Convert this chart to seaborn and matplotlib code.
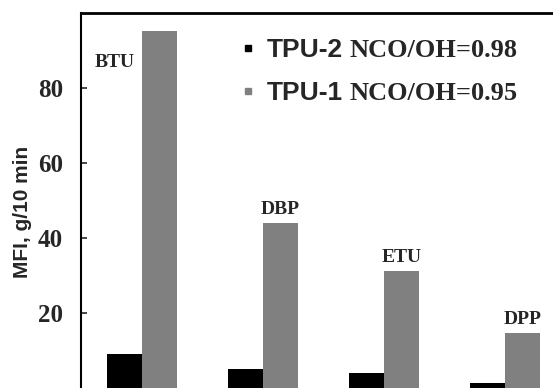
import matplotlib
matplotlib.use("Agg")
import matplotlib.pyplot as plt
from matplotlib.lines import Line2D
from matplotlib.transforms import IdentityTransform
import seaborn as sns
import pandas as pd

# ---- data ----
additives = ["BTU", "DBP", "ETU", "DPP"]
tpu2_mfi = [9.3, 5.2, 4.2, 1.4]      # TPU-2 NCO/OH=0.98 (black)
tpu1_mfi = [95.2, 44.2, 31.4, 14.8]  # TPU-1 NCO/OH=0.95 (gray)
series_names = ["TPU-2", "TPU-1"]
series_ratios = ["NCO/OH=0.98", "NCO/OH=0.95"]
y_ticks = [20, 40, 60, 80]

df = pd.DataFrame({
    "additive": additives * 2,
    "mfi": tpu2_mfi + tpu1_mfi,
    "series": [series_names[0]] * len(additives) + [series_names[1]] * len(additives),
})

sns.set_style("white")

colors = {"TPU-2": "#000000", "TPU-1": "#808080"}

fig = plt.figure(figsize=(5.53, 3.88), dpi=100)
ax = fig.add_axes([81 / 553, -0.5 / 388, 485 / 553, 375.5 / 388])

sns.barplot(data=df, x="additive", y="mfi", hue="series", hue_order=series_names,
            palette=colors, width=0.578, gap=0, saturation=1, linewidth=0,
            legend=False, ax=ax, errorbar=None)

ax.set_xlim(-0.5, 3.5)
ax.set_ylim(0, 100)
ax.set_yticks(y_ticks)
ax.set_yticklabels([str(t) for t in y_ticks], family="Liberation Serif",
                   weight="bold", size=18)
ax.tick_params(axis="y", direction="in", length=4, width=1.2, pad=13, left=True)
ax.tick_params(axis="x", bottom=False, labelbottom=False)
ax.set_xlabel("")
ax.set_ylabel("MFI, g/10 min", family="Liberation Sans", weight="bold", size=15)
ax.yaxis.set_label_coords(-0.101, 0.469)

for s in ["right", "bottom"]:
    ax.spines[s].set_visible(False)
ax.spines["left"].set_linewidth(1.5)
ax.spines["top"].set_linewidth(2.0)
ax.spines["left"].set_color("black")
ax.spines["top"].set_color("black")

# additive labels
half = 0.578 / 4
for i, (name, v) in enumerate(zip(additives, tpu1_mfi)):
    if i == 0:
        x, y = i - 0.22, 85.7
    else:
        x, y = i + half, v + 2.4
    ax.text(x, y, name, ha="center", va="baseline", family="Liberation Serif",
            weight="bold", size=14)

handles = [Line2D([], [], marker="s", linestyle="", color=colors[n], markersize=5)
           for n in series_names]
leg = ax.legend(handles, series_names, loc="upper left", bbox_to_anchor=(0.333, 0.933),
                frameon=False, borderpad=0, borderaxespad=0, handlelength=0.4,
                handletextpad=0.52, labelspacing=0.72,
                prop={"family": "Liberation Sans", "weight": "bold", "size": 19})

# serif second part of each legend entry
fig.canvas.draw()
for t, extra in zip(leg.get_texts(), series_ratios):
    x0, y0 = t.get_transform().transform(t.get_position())
    bb = t.get_window_extent()
    fig.text(bb.x1 + 7, y0, extra, transform=IdentityTransform(), ha="left",
             va="baseline", family="Liberation Serif", weight="bold", size=19)

fig.savefig("out.png", dpi=100)
